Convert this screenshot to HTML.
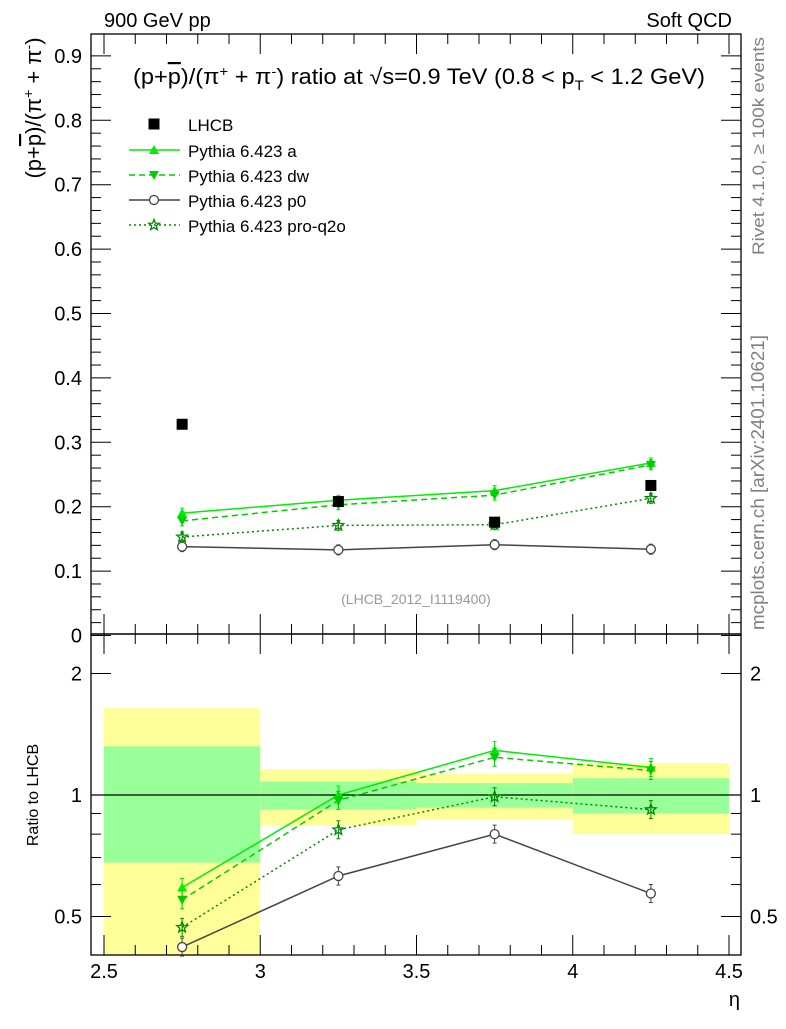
<!DOCTYPE html>
<html><head><meta charset="utf-8"><style>
body{margin:0;background:#fff;}
svg text{font-family:"Liberation Sans",sans-serif;}
</style></head><body>
<svg id="c" width="786" height="1024" xmlns="http://www.w3.org/2000/svg"></svg>
<script>
const categories=[2.75,3.25,3.75,4.25];
const lhcb=[0.328,0.208,0.176,0.233];
const pyA=[0.190,0.210,0.225,0.268];
const pyDW=[0.178,0.203,0.218,0.265];
const pyP0=[0.138,0.133,0.141,0.134];
const pyQ2O=[0.153,0.171,0.172,0.213];
const rA=[0.59,1.00,1.29,1.17];
const rDW=[0.55,0.97,1.24,1.15];
const rP0=[0.42,0.63,0.80,0.57];
const rQ2O=[0.47,0.82,0.99,0.92];
const binEdges=[2.5,3,3.5,4,4.5];
const band1Lo=[0.68,0.92,0.93,0.90];
const band1Hi=[1.32,1.08,1.07,1.10];
const band2Lo=[0.30,0.84,0.87,0.80];
const band2Hi=[1.64,1.16,1.13,1.20];
const topTicks=[0,0.1,0.2,0.3,0.4,0.5,0.6,0.7,0.8,0.9];
const xTicks=[2.5,3,3.5,4,4.5];
const botTicks=[0.5,1,2];

const S=document.getElementById('c');const NS='http://www.w3.org/2000/svg';
function el(t,a,txt,p){const e=document.createElementNS(NS,t);for(const k in a)e.setAttribute(k,a[k]);if(txt!=null)e.textContent=txt;(p||S).appendChild(e);return e;}
const L=91,R=741,T1=34,B1=634,B2=955;
const X=v=>104+(v-2.5)*312.5;
const Y1=v=>635.5-v*644;
const Y2=v=>795-121.5*Math.log2(v);

for(let i=0;i<4;i++){
 const r=el('rect',{x:X(binEdges[i]),y:Y2(band2Hi[i]),width:X(binEdges[i+1])-X(binEdges[i]),height:Math.min(B2,Y2(band2Lo[i]))-Y2(band2Hi[i]),fill:'#ffff99'});
 
 const g=el('rect',{x:X(binEdges[i]),y:Y2(band1Hi[i]),width:X(binEdges[i+1])-X(binEdges[i]),height:Y2(band1Lo[i])-Y2(band1Hi[i]),fill:'#99ff99'});
 
}
el('line',{x1:L,x2:R,y1:Y2(1),y2:Y2(1),stroke:'#000','stroke-width':1.3});

el('rect',{x:L,y:T1,width:R-L,height:B1-T1,fill:'none',stroke:'#000','stroke-width':1.3});
el('rect',{x:L,y:B1,width:R-L,height:B2-B1,fill:'none',stroke:'#000','stroke-width':1.3});

for(let v=0;v<=0.92;v+=0.02){const y=Y1(v);if(y<T1)continue;const maj=Math.abs(Math.round(v*10)-v*10)<1e-6;const len=maj?20:10;
 el('line',{x1:L,x2:L+len,y1:y,y2:y,stroke:'#000'});el('line',{x1:R,x2:R-len,y1:y,y2:y,stroke:'#000'});}
topTicks.forEach(v=>{const t=el('text',{x:82,y:Y1(v)+7,'text-anchor':'end','font-size':20},v===0?'0':v.toFixed(1));});
for(let v=2.5;v<=4.501;v+=0.1){const x=X(v);const maj=Math.abs(v*2-Math.round(v*2))<1e-6;const len=maj?20:10;
 el('line',{x1:x,x2:x,y1:T1,y2:T1+len,stroke:'#000'});el('line',{x1:x,x2:x,y1:B1,y2:B1-len,stroke:'#000'});
 el('line',{x1:x,x2:x,y1:B1,y2:B1+len,stroke:'#000'});el('line',{x1:x,x2:x,y1:B2,y2:B2-len,stroke:'#000'});}
xTicks.forEach(v=>{const t=el('text',{x:X(v),y:978,'text-anchor':'middle','font-size':20},String(v));});
[0.4,0.5,0.6,0.7,0.8,0.9,1,2].forEach(v=>{const y=Y2(v);if(y>B2)return;const maj=botTicks.includes(v);const len=maj?20:10;
 el('line',{x1:L,x2:L+len,y1:y,y2:y,stroke:'#000'});el('line',{x1:R,x2:R-len,y1:y,y2:y,stroke:'#000'});});
botTicks.forEach(v=>{const a=el('text',{x:82,y:Y2(v)+7,'text-anchor':'end','font-size':20},String(v));
 const b=el('text',{x:750,y:Y2(v)+7,'font-size':20},String(v));});

function marker(kind,x,y,col,g){
 if(kind==='sq')el('rect',{x:x-5.5,y:y-5.5,width:11,height:11,fill:'#000'},null,g);
 else if(kind==='up')el('polygon',{points:`${x},${y-5} ${x-5},${y+4} ${x+5},${y+4}`,fill:col},null,g);
 else if(kind==='dn')el('polygon',{points:`${x},${y+5} ${x-5},${y-4} ${x+5},${y-4}`,fill:col},null,g);
 else if(kind==='o')el('circle',{cx:x,cy:y,r:4.5,fill:'#fff',stroke:col,'stroke-width':1.3},null,g);
 else if(kind==='st'){let p=[];for(let k=0;k<10;k++){const r=k%2?2.4:5.6,a=-Math.PI/2+k*Math.PI/5;p.push((x+r*Math.cos(a)).toFixed(1)+','+(y+r*Math.sin(a)).toFixed(1));}
  el('polygon',{points:p.join(' '),fill:'none',stroke:col,'stroke-width':1.3},null,g);}
}
const series=[
 {n:'pythia-a',lab:'Pythia 6.423 a',top:pyA,rat:rA,col:'#00ee00',dash:'',m:'up'},
 {n:'pythia-dw',lab:'Pythia 6.423 dw',top:pyDW,rat:rDW,col:'#00cc00',dash:'6,4',m:'dn'},
 {n:'pythia-p0',lab:'Pythia 6.423 p0',top:pyP0,rat:rP0,col:'#444444',dash:'',m:'o'},
 {n:'pythia-pro-q2o',lab:'Pythia 6.423 pro-q2o',top:pyQ2O,rat:rQ2O,col:'#008800',dash:'2,3',m:'st'}];
series.forEach(s=>{
 [[s.top,Y1,5],[s.rat,Y2,9]].forEach(([arr,Yf,eb])=>{
  const g=el('g',{});
  el('polyline',{points:categories.map((c,i)=>X(c)+','+Yf(arr[i])).join(' '),fill:'none',stroke:s.col,'stroke-width':1.5,'stroke-dasharray':s.dash},null,g);
  categories.forEach((c,i)=>{const y=Yf(arr[i]);el('line',{x1:X(c),x2:X(c),y1:y-eb,y2:y+eb,stroke:s.col},null,g);
   el('line',{x1:X(c)-2,x2:X(c)+2,y1:y-eb,y2:y-eb,stroke:s.col},null,g);el('line',{x1:X(c)-2,x2:X(c)+2,y1:y+eb,y2:y+eb,stroke:s.col},null,g);
   marker(s.m,X(c),y,s.col,g);});
 });
});
const gl=el('g',{});
categories.forEach((c,i)=>marker('sq',X(c),Y1(lhcb[i]),'#000',gl));

const leg=el('g',{});
marker('sq',154,124,'#000',leg);el('text',{x:188,y:131,'font-size':17},'LHCB',leg);
series.forEach((s,i)=>{const y=150+i*25;el('line',{x1:129,x2:180,y1:y,y2:y,stroke:s.col,'stroke-width':1.5,'stroke-dasharray':s.dash},null,leg);marker(s.m,154,y,s.col,leg);
 el('text',{x:188,y:y+7,'font-size':17},s.lab,leg);});

function txt(name,a,s,html){const t=el('text',a);t.innerHTML=html||s;return t;}
txt('header-left',{x:104,y:27,'font-size':20},'900 GeV pp');
txt('header-right',{x:732,y:27,'font-size':20,'text-anchor':'end'},'Soft QCD');
txt('plot-title',{x:133,y:84,'font-size':22,textLength:572,lengthAdjust:'spacingAndGlyphs'},'','(p+<tspan text-decoration="overline">p</tspan>)/(π<tspan dy="-8" font-size="14">+</tspan><tspan dy="8"> + π</tspan><tspan dy="-8" font-size="14">-</tspan><tspan dy="8">) ratio at √s=0.9 TeV (0.8 &lt; p</tspan><tspan dy="6" font-size="14">T</tspan><tspan dy="-6"> &lt; 1.2 GeV)</tspan>');
txt('y-axis-title',{x:0,y:0,'font-size':22,transform:'translate(41,108) rotate(-90)','text-anchor':'middle'},'','(p+<tspan text-decoration="overline">p</tspan>)/(π<tspan dy="-8" font-size="14">+</tspan><tspan dy="8"> + π</tspan><tspan dy="-8" font-size="14">-</tspan><tspan dy="8">)</tspan>');
txt('ratio-axis-title',{x:0,y:0,'font-size':16,transform:'translate(38,795) rotate(-90)','text-anchor':'middle'},'Ratio to LHCB');
txt('x-axis-title',{x:740,y:1006,'font-size':20,'text-anchor':'end'},'η');
txt('analysis-id',{x:416,y:604,'font-size':14,fill:'#999','text-anchor':'middle'},'(LHCB_2012_I1119400)');
txt('rivet-label',{x:0,y:0,'font-size':17,fill:'#808080',transform:'translate(764,255) rotate(-90)',textLength:218,lengthAdjust:'spacingAndGlyphs'},'Rivet 4.1.0, ≥ 100k events');
txt('mcplots-label',{x:0,y:0,'font-size':18,fill:'#808080',transform:'translate(764,630) rotate(-90)',textLength:295,lengthAdjust:'spacingAndGlyphs'},'mcplots.cern.ch [arXiv:2401.10621]');
</script>
</body></html>
